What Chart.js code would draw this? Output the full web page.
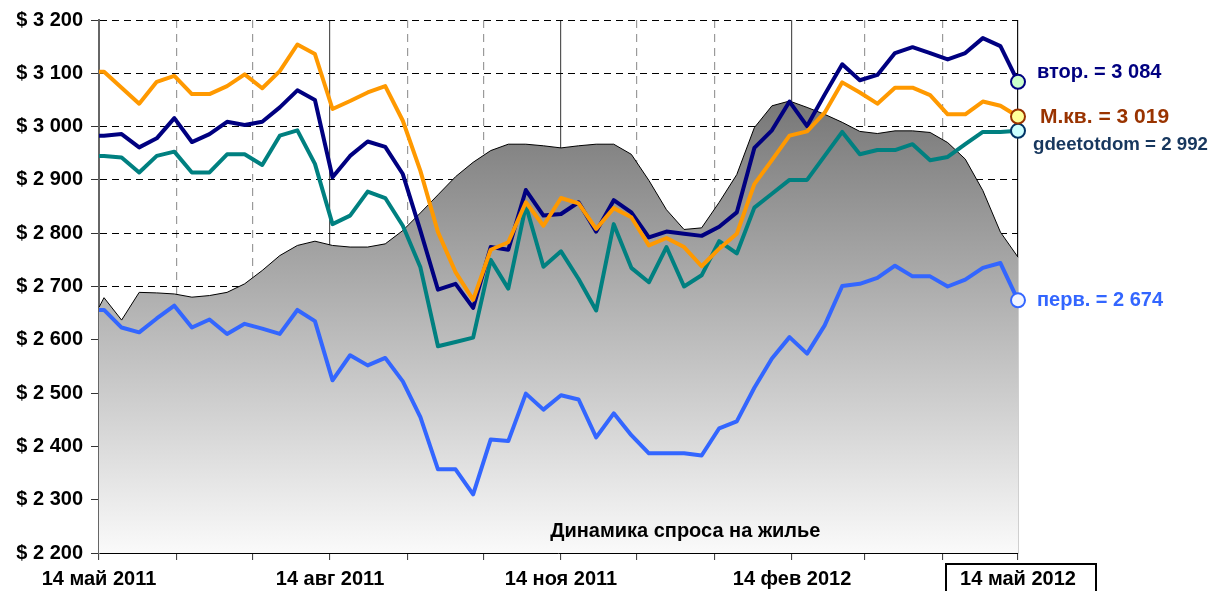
<!DOCTYPE html>
<html>
<head>
<meta charset="utf-8">
<script src="https://cdn.jsdelivr.net/npm/chart.js@4.4.1/dist/chart.umd.min.js"></script>
<style>
  html, body { margin: 0; padding: 0; background: #fff; }
  #wrap { width: 1211px; height: 591px; }
</style>
</head>
<body>
<div id="wrap"><canvas id="grafico" width="1211" height="591"></canvas></div>
<script>
// недельные замеры
const dates = ['2011-05-14','2011-05-16','2011-05-23','2011-05-30','2011-06-06','2011-06-13','2011-06-20','2011-06-27',
  '2011-07-04','2011-07-11','2011-07-18','2011-07-25','2011-08-01','2011-08-08','2011-08-15','2011-08-22','2011-08-29',
  '2011-09-05','2011-09-12','2011-09-19','2011-09-26','2011-10-03','2011-10-10','2011-10-17','2011-10-24','2011-10-31',
  '2011-11-07','2011-11-14','2011-11-21','2011-11-28','2011-12-05','2011-12-12','2011-12-19','2011-12-26',
  '2012-01-02','2012-01-09','2012-01-16','2012-01-23','2012-01-30','2012-02-06','2012-02-13','2012-02-20','2012-02-27',
  '2012-03-05','2012-03-12','2012-03-19','2012-03-26','2012-04-02','2012-04-09','2012-04-16','2012-04-23','2012-04-30',
  '2012-05-07','2012-05-14'];

// спрос (серая область)
const spros = [2661,2679,2637,2689,2688,2686,2680,2683,2689,2705,2730,2758,2777,2785,2777,2774,2774,2780,2805,2838,
  2872,2906,2933,2955,2967,2967,2964,2960,2964,2967,2967,2948,2899,2844,2807,2810,2858,2910,2998,3039,3048,3036,
  3023,3008,2991,2987,2992,2992,2989,2970,2939,2880,2802,2755];
const vtor = [2983,2983,2986,2961,2978,3016,2971,2986,3009,3003,3009,3036,3068,3050,2905,2945,2972,2962,2911,2805,
  2694,2705,2660,2774,2769,2881,2833,2836,2858,2803,2862,2839,2792,2803,2799,2795,2812,2839,2960,2993,3047,3001,
  3060,3117,3087,3097,3138,3149,3138,3126,3138,3166,3151,3084];
const mkv = [3103,3103,3073,3043,3084,3095,3061,3061,3076,3098,3072,3104,3154,3136,3033,3048,3064,3076,3011,2917,
  2802,2727,2675,2769,2783,2858,2814,2866,2856,2808,2847,2830,2777,2791,2774,2738,2771,2799,2892,2937,2983,2991,
  3026,3083,3064,3043,3073,3073,3059,3023,3023,3047,3039,3019];
const gdeetotdom = [2945,2945,2942,2914,2945,2953,2914,2914,2948,2948,2928,2983,2993,2930,2817,2833,2878,2866,2814,2736,
  2588,2596,2604,2750,2696,2852,2737,2766,2714,2655,2817,2735,2708,2774,2700,2721,2785,2762,2848,2874,2900,2900,
  2945,2990,2948,2956,2956,2967,2937,2943,2967,2990,2990,2992];
const perv = [2656,2656,2623,2614,2640,2664,2623,2638,2611,2630,2621,2611,2656,2635,2524,2571,2552,2566,2522,2455,
  2357,2357,2310,2413,2410,2499,2469,2496,2488,2417,2462,2421,2387,2387,2387,2383,2434,2447,2510,2565,2605,2574,
  2627,2701,2705,2716,2739,2719,2719,2700,2713,2735,2744,2674];

// подписи оси X (по месяцам)
const tickDates = ['2011-05-14','2011-06-14','2011-07-14','2011-08-14','2011-09-14','2011-10-14','2011-11-14',
  '2011-12-14','2012-01-14','2012-02-14','2012-03-14','2012-04-14','2012-05-14'];
const tickLabels = ['14 май 2011','','','14 авг 2011','','','14 ноя 2011','','','14 фев 2012','','','14 май 2012'];

const start = Date.parse(tickDates[0]);
const toDay = d => Math.round((Date.parse(d) - start) / 86400000);
const days = dates.map(toDay);
const tickDays = tickDates.map(toDay);
const pts = arr => arr.map((v, i) => ({ x: days[i], y: v }));

const FONT = 'Arial, "Liberation Sans", sans-serif';
const fmt = v => Math.floor(v / 1000) + ' ' + String(v % 1000).padStart(3, '0');
const lastOnly = r => ctx => ctx.dataIndex === ctx.dataset.data.length - 1 ? r : 0;

const extras = {
  id: 'extras',
  afterDatasetsDraw(chart) {
    const { ctx, chartArea } = chart;
    chart.data.datasets.forEach((ds, i) => {
      if (!ds.tag) return;
      const meta = chart.getDatasetMeta(i);
      const pt = meta.data[meta.data.length - 1];
      ctx.save();
      ctx.font = ds.tagFont;
      ctx.fillStyle = ds.tagColor;
      ctx.textBaseline = 'middle';
      ctx.fillText(ds.tag + ' = ' + fmt(ds.data[ds.data.length - 1].y), pt.x + ds.tagDx, pt.y + ds.tagDy);
      ctx.restore();
    });
    // подпись внутри графика
    ctx.save();
    ctx.font = 'bold 20px ' + FONT;
    ctx.fillStyle = '#000';
    ctx.textAlign = 'center';
    ctx.textBaseline = 'middle';
    ctx.fillText('Динамика спроса на жилье', chartArea.left + (chartArea.right - chartArea.left) * 0.638, chartArea.bottom - 22);
    ctx.restore();
  },
  afterDraw(chart) {
    // рамка вокруг последней даты
    const { ctx, chartArea } = chart;
    const x = chart.scales.x.getPixelForValue(tickDays[tickDays.length - 1]);
    ctx.save();
    ctx.strokeStyle = '#000';
    ctx.lineWidth = 2;
    ctx.strokeRect(x - 72, chartArea.bottom + 11, 150, 40);
    ctx.restore();
  }
};

new Chart(document.getElementById('grafico').getContext('2d'), {
  type: 'line',
  data: {
    datasets: [
      {
        label: 'перв.', data: pts(perv), borderColor: '#3366FF', borderWidth: 4, order: 1,
        pointRadius: lastOnly(7), pointBackgroundColor: '#F2F5FF', pointBorderColor: '#3366FF', pointBorderWidth: 2,
        tag: 'перв.', tagColor: '#3366FF', tagFont: 'bold 20px ' + FONT, tagDx: 19, tagDy: 0
      },
      {
        label: 'М.кв.', data: pts(mkv), borderColor: '#FF9900', borderWidth: 4, order: 2,
        pointRadius: lastOnly(7), pointBackgroundColor: '#FFFF99', pointBorderColor: '#993300', pointBorderWidth: 2,
        tag: 'М.кв.', tagColor: '#993300', tagFont: 'bold 21px ' + FONT, tagDx: 22, tagDy: 1
      },
      {
        label: 'втор.', data: pts(vtor), borderColor: '#000080', borderWidth: 4, order: 3,
        pointRadius: lastOnly(7), pointBackgroundColor: '#CCFFCC', pointBorderColor: '#000080', pointBorderWidth: 2,
        tag: 'втор.', tagColor: '#000080', tagFont: 'bold 20px ' + FONT, tagDx: 19, tagDy: -9
      },
      {
        label: 'gdeetotdom', data: pts(gdeetotdom), borderColor: '#008080', borderWidth: 4, order: 4,
        pointRadius: lastOnly(7), pointBackgroundColor: '#CCFFFF', pointBorderColor: '#003366', pointBorderWidth: 2,
        tag: 'gdeetotdom', tagColor: '#17375E', tagFont: 'bold 18.7px ' + FONT, tagDx: 15, tagDy: 14
      },
      {
        label: 'спрос', data: pts(spros), borderColor: '#000', borderWidth: 1, order: 10,
        pointRadius: 0, fill: 'start',
        backgroundColor: ctx => {
          const a = ctx.chart.chartArea;
          if (!a) return '#bbb';
          const g = ctx.chart.ctx.createLinearGradient(0, a.top + 80, 0, a.bottom);
          g.addColorStop(0, '#777777');
          g.addColorStop(1, '#fafafa');
          return g;
        }
      }
    ]
  },
  options: {
    responsive: false,
    animation: false,
    events: [],
    clip: false,
    layout: { padding: { top: 19, right: 193, left: 0, bottom: 0 } },
    elements: { line: { tension: 0, borderJoinStyle: 'round' } },
    plugins: { legend: { display: false }, tooltip: { enabled: false } },
    scales: {
      x: {
        type: 'linear', min: tickDays[0], max: tickDays[tickDays.length - 1],
        afterBuildTicks: s => { s.ticks = tickDays.map(v => ({ value: v })); },
        afterFit: s => { s.height = 38; },
        ticks: {
          autoSkip: false, maxRotation: 0, padding: 7, color: '#000',
          font: { family: FONT, size: 20, weight: 'bold' },
          callback: v => tickLabels[tickDays.indexOf(v)]
        },
        grid: {
          drawOnChartArea: true, tickLength: 7, tickColor: '#333', tickWidth: 1,
          color: c => {
            const i = tickDays.indexOf(c.tick && c.tick.value);
            if (i === tickDays.length - 1) return '#111';
            return i % 3 === 0 ? '#555' : '#9a9a9a';
          },
          lineWidth: 1.2
        },
        border: {
          display: true, color: '#000', width: 1,
          dash: c => (c.tick && tickDays.indexOf(c.tick.value) % 3 !== 0) ? [8, 6] : []
        }
      },
      y: {
        min: 2200, max: 3200,
        afterFit: s => { s.width = 99; },
        ticks: {
          stepSize: 100, padding: 8, color: '#000',
          font: { family: FONT, size: 20, weight: 'bold' },
          callback: v => '$ ' + fmt(v)
        },
        grid: {
          tickLength: 8, tickColor: '#333', tickWidth: 1,
          color: c => (c.tick && c.tick.value === 2200) ? 'rgba(0,0,0,0)' : '#000'
        },
        border: { display: true, color: '#666', width: 2, dash: [7, 5] }
      }
    }
  },
  plugins: [extras]
});
</script>
</body>
</html>
